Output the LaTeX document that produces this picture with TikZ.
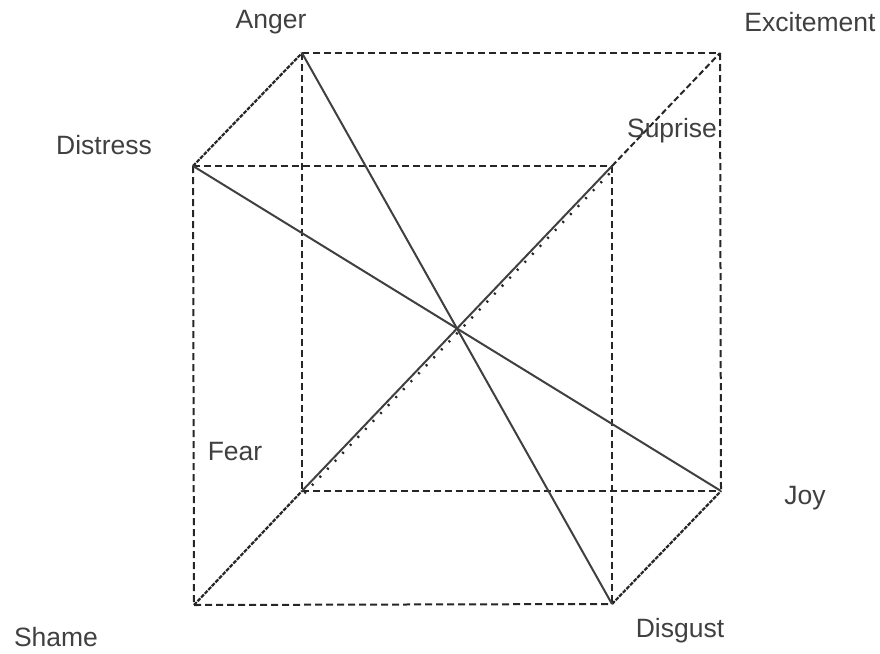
\documentclass[tikz,border=0pt]{standalone}
\usepackage{fontspec}
\setmainfont{Liberation Sans}
\begin{document}
\begin{tikzpicture}[x=1pt,y=-1pt,
  edge/.style={draw=black!85, line width=2pt, dash pattern=on 7pt off 4pt},
  depth/.style={draw=black!85, line width=2.2pt, dash pattern=on 4pt off 1.2pt},
  diag/.style={draw=black!75, line width=2pt},
  dots/.style={draw=black!85, line width=2.4pt, dash pattern=on 2pt off 9pt},
  lbl/.style={text=black!75, font=\fontsize{26.5}{30}\selectfont, inner sep=0pt}]
\useasboundingbox (0,0) rectangle (880,653);
% back face
\coordinate (anger) at (302,53);
\coordinate (excite) at (720,53);
\coordinate (joy) at (721,491);
\coordinate (fear) at (302,491);
% front face
\coordinate (distress) at (193,166);
\coordinate (surprise) at (612,166);
\coordinate (disgust) at (612,604);
\coordinate (shame) at (194,605);
% back face edges
\draw[edge] (anger) -- (excite);
\draw[edge] (excite) -- (joy);
\draw[edge] (fear) -- (joy);
\draw[edge] (anger) -- (fear);
% front face edges
\draw[edge] (distress) -- (surprise);
\draw[edge] (surprise) -- (disgust);
\draw[edge] (shame) -- (disgust);
\draw[edge] (distress) -- (shame);
% depth edges
\draw[depth] (distress) -- (anger);
\draw[depth] (disgust) -- (joy);
\draw[depth] (shame) -- (fear);
\draw[edge, dash pattern=on 6pt off 3pt] (surprise) -- (excite);
% diagonals
\draw[diag] (distress) -- (joy);
\draw[diag] (anger) -- (disgust);
\draw[diag] (fear) -- (surprise);
\draw[dots] ([shift={(2.4,2.3)}]fear) -- ([shift={(2.4,2.3)}]surprise);
% labels
\node[lbl] (lAnger) at (271,22) {Anger};
\node[lbl] (lExcite) at (810,22) {Excitement};
\node[lbl] (lDistress) at (104,145) {Distress};
\node[lbl] (lSurprise) at (672,131) {Suprise};
\node[lbl] (lFear) at (235,452) {Fear};
\node[lbl] (lJoy) at (805,498) {Joy};
\node[lbl] (lShame) at (56,637) {Shame};
\node[lbl] (lDisgust) at (680,631) {Disgust};
\end{tikzpicture}
\end{document}
